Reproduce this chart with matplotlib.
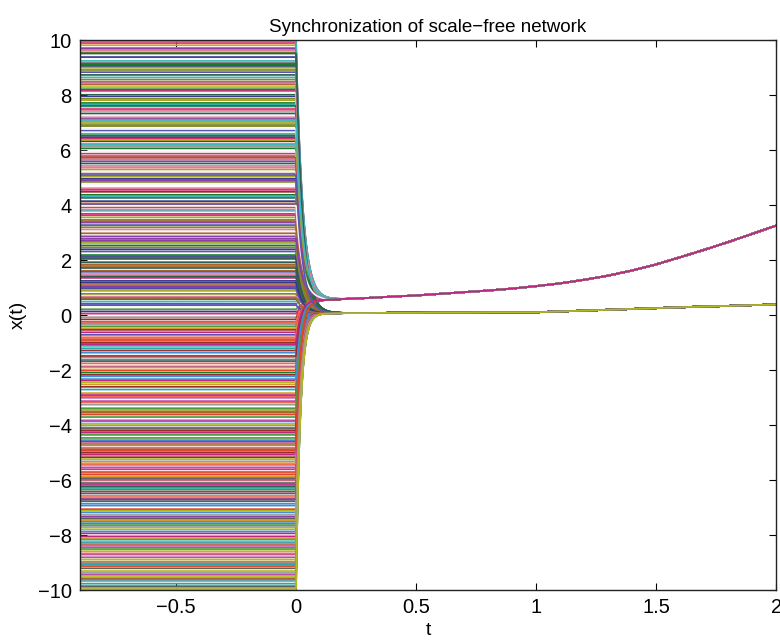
import numpy as np
import matplotlib
matplotlib.use("Agg")
import matplotlib.pyplot as plt

plt.rcParams['font.family'] = ['Liberation Sans', 'DejaVu Sans']

# Initial (history) states of the network nodes on t in [-0.9, 0]
X0 = [
    7.42, -3.18, 0.96, -8.71, 5.03, 2.67, -6.25, 9.81, -1.44, 3.92, -9.57, 6.14, -4.83, 1.35,
    -0.72, 8.29, -5.61, 4.48, -2.09, 9.16, -7.34, 0.21, 6.87, -9.02, 3.11, -4.16, 7.95, -1.87,
    5.66, -6.93, 2.04, -8.12, 9.47, -3.55, 1.78, -0.33, 8.64, -5.08, 4.02, -7.79, 6.41, -2.61,
    0.58, -9.86, 7.13, -4.47, 3.46, -1.12, 9.63, -6.58, 2.39, -8.44, 5.29, -3.87, 8.02, -0.96,
    4.77, -7.06, 1.09, -5.32, 6.59, -2.38, 9.02, -9.31, 3.68, -0.54, 7.71, -6.11, 2.86, -4.69,
    8.91, -1.63, 5.42, -8.97, 0.13, -3.01, 6.98, -7.52, 4.26, -2.84, 9.33, -5.79, 1.61, -0.08,
    7.58, -4.28, 3.27, -9.68, 5.87, -1.29, 2.53, -6.77, 8.47, -3.71, 0.77, -8.26, 6.23, -5.45,
    4.14, -0.25, 9.71, -7.18, 1.92, -2.52, 7.27, -9.13, 5.15, -4.02, 3.79, -6.42, 0.41, -8.59,
    8.15, -1.01, 6.06, -5.93, 2.72, -3.39, 9.55, -7.65, 4.61, -0.87, 1.24, -9.44, 7.04, -2.23,
    5.51, -6.02, 3.03, -4.94, 8.38, -1.55, 0.49, -8.05, 6.71, -3.96, 9.89, -5.17, 2.18, -7.41,
    4.89, -0.41, 7.86, -9.77, 1.49, -2.97, 6.32, -6.66, 3.55, -4.55, 8.73, -1.91, 0.31, -8.36,
    5.78, -3.26, 9.24, -7.94, 2.31, -5.24, 7.49, -0.16, 4.37, -9.21, 1.03, -6.35, 8.56, -2.71,
    3.84, -4.74, 6.47, -8.81, 0.88, -1.37, 9.07, -5.86, 5.21, -3.62, 2.97, -7.27, 7.65, -0.63,
    1.57, -9.49, 4.55, -2.17, 8.21, -6.49, 3.36, -4.36, 6.91, -8.17, 0.67, -1.76, 9.38, -5.54,
    2.62, -7.87, 7.33, -3.45, 5.94, -0.91, 1.84, -9.92, 4.31, -6.18, 8.83, -2.44, 0.05, -5.01,
    6.53, -4.11, 9.69, -7.59, 3.19, -1.21, 5.36, -8.67, 2.11, -3.83, 7.81, -6.86, 1.41, -0.48,
    8.07, -5.71, 4.06, -9.38, 6.19, -2.91, 0.99, -7.12, 3.63, -4.21, 9.12, -1.68, 5.59, -8.51,
    2.46, -6.29, 7.19, -0.29, 4.95, -3.13, 8.99, -9.63, 1.71, -5.39, 6.77, -2.01, 3.41, -7.71,
    9.96, -4.61, 0.36, -8.89, 5.72, -1.49, 7.61, -6.71, 2.78, -3.51, 4.84, -9.08, 8.43, -0.81,
    1.17, -5.99, 6.36, -2.33, 9.51, -7.46, 3.97, -4.88, 0.62, -8.31, 7.09, -1.06, 5.09, -9.97,
]

# Synchronized cluster trajectories
T_SYNC = [0.0, 0.1, 0.2, 0.3, 0.4, 0.5, 0.6, 0.7, 0.8, 0.9, 1.0,
          1.1, 1.2, 1.3, 1.4, 1.5, 1.6, 1.7, 1.8, 1.9, 2.0]
UPPER = [0.50, 0.55, 0.58, 0.62, 0.67, 0.71, 0.77, 0.83, 0.89, 0.96, 1.05,
         1.15, 1.28, 1.43, 1.62, 1.84, 2.10, 2.37, 2.65, 2.95, 3.25]
LOWER = [0.05, 0.06, 0.07, 0.07, 0.08, 0.08, 0.09, 0.09, 0.10, 0.10, 0.10,
         0.13, 0.16, 0.19, 0.22, 0.25, 0.28, 0.31, 0.33, 0.36, 0.38]

T_HIST = -0.9
RATE_POS = 36.0   # convergence rate for nodes starting above zero
RATE_NEG = 55.0   # convergence rate for nodes starting below zero

PALETTE = ['#c0267f', '#1b7d2b', '#27a9a9', '#a9a824', '#e0462a', '#5a54b5',
           '#5e5e5e', '#e07f9a', '#3e8fd6', '#a8652e', '#b3b81c', '#8b3fa8',
           '#ee6a52', '#2f5f4f', '#9a9a9a', '#d6337a', '#4f9a3a', '#3a3a8c',
           '#d99a2c', '#3fb5bd', '#9a2c2c', '#7d8b2a', '#b84fb0', '#f4f4f4']

t_sync = np.array(T_SYNC)
t_fast = np.linspace(0.0, 0.3, 241)
t_run = np.concatenate([t_fast, t_sync[t_sync > 0.3]])
up_run = np.interp(t_run, t_sync, UPPER)
lo_run = np.interp(t_run, t_sync, LOWER)

fig = plt.figure(figsize=(7.8, 6.4), dpi=100)
ax = fig.add_axes([0.1026, 0.0781, 0.8924, 0.8594])

for i, x0 in enumerate(X0):
    base = up_run if (i // 2) % 2 == 0 else lo_run
    k = RATE_POS if x0 >= 0 else RATE_NEG
    traj = base + (x0 - base[0]) * np.exp(-k * t_run)
    t = np.concatenate([[T_HIST], t_run])
    x = np.concatenate([[x0], traj])
    ax.plot(t, x, color=PALETTE[(i * 5 + 7) % len(PALETTE)], lw=1.25,
            solid_capstyle='butt')

ax.set_xlim(T_HIST, 2.0)
ax.set_ylim(-10, 10)
ax.set_xticks([-0.5, 0, 0.5, 1, 1.5, 2])
ax.set_xticklabels(['\u22120.5', '0', '0.5', '1', '1.5', '2'])
ax.set_yticks(np.arange(-10, 11, 2))
ax.tick_params(direction='in', top=True, right=True, length=5, width=0.8,
               labelsize=14.5, pad=6)
for sp in ax.spines.values():
    sp.set_linewidth(1.0)
    sp.set_color('#222222')

ax.set_title('Synchronization of scale\u2212free network', fontsize=13.5, pad=6)
ax.set_xlabel('t', fontsize=14, labelpad=3)
ax.set_ylabel('x(t)', fontsize=14, labelpad=8)

fig.savefig('out.png', dpi=100)
